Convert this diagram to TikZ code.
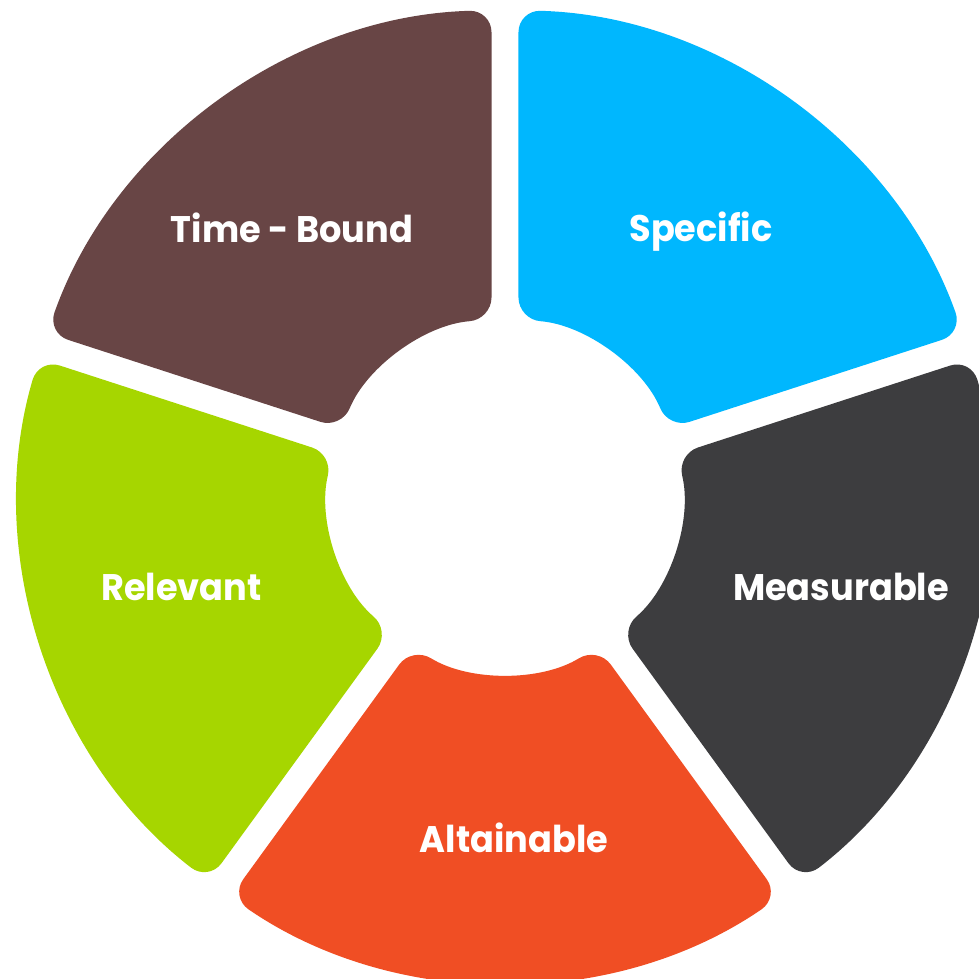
\documentclass[tikz,border=0pt]{standalone}
\usepackage{fontspec}
\setmainfont{Poppins}

\definecolor{specblue}{HTML}{00B7FE}
\definecolor{measgray}{HTML}{3D3D3F}
\definecolor{attorange}{HTML}{F04E24}
\definecolor{relgreen}{HTML}{A6D600}
\definecolor{timebrown}{HTML}{684545}

% ring geometry (pt): outer radius, inner radius, half of the gap between parts
\newcommand{\ringout}{486}
\newcommand{\ringin}{177}
\newcommand{\halfgap}{13.5}

% one part of the ring between two boundary angles, with parallel-sided gaps
\newcommand{\ringpart}[3]{%
  \pgfmathsetmacro{\dout}{asin(\halfgap/\ringout)}%
  \pgfmathsetmacro{\din}{asin(\halfgap/\ringin)}%
  \fill[#3, rounded corners=22pt]
    ({#1+\dout}:\ringout pt)
    arc[start angle={#1+\dout}, end angle={#2-\dout}, radius=\ringout pt]
    -- ({#2-\din}:\ringin pt)
    arc[start angle={#2-\din}, end angle={#1+\din}, radius=\ringin pt]
    -- cycle;
}

\tikzset{
  partlabel/.style={text=white, inner sep=0pt, anchor=base, xscale=0.95,
    font=\fontsize{37}{40}\selectfont\bfseries}
}

\begin{document}
\begin{tikzpicture}[x=1pt, y=1pt]
  \useasboundingbox (-505,-482) rectangle (474,496);
  \fill[white] (-505,-482) rectangle (474,496);

  \ringpart{18}{90}{specblue}
  \ringpart{-54}{18}{measgray}
  \ringpart{-126}{-54}{attorange}
  \ringpart{162}{234}{relgreen}
  \ringpart{90}{162}{timebrown}

  \node[partlabel] (timebound) at (-213,254) {Time - Bound};
  \node[partlabel] (specific) at (196,255) {Specific};
  \node[partlabel] (measurable) at (336,-104) {Measurable};
  \node[partlabel] (relevant) at (-323.5,-104) {Relevant};
  \node[partlabel] (attainable) at (9,-356) {Altainable};
\end{tikzpicture}
\end{document}
